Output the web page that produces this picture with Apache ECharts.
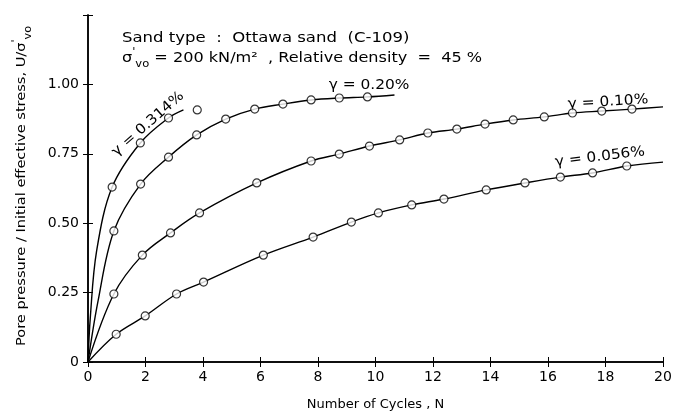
<!DOCTYPE html>
<html>
<head>
<meta charset="utf-8">
<script src="https://cdn.jsdelivr.net/npm/echarts@6/dist/echarts.min.js"></script>
<style>
  html, body { margin: 0; padding: 0; background: #fff; }
  #main { width: 689px; height: 417px; }
</style>
</head>
<body>
<div id="main"></div>
<script>
// tick labels
var xTicks = [0, 2, 4, 6, 8, 10, 12, 14, 16, 18, 20];
var yTicks = ['0', '0.25', '0.50', '0.75', '1.00'];

// measured points (open circles), N and U/sigma'vo
var cyc314 = [0.84, 1.82, 2.8, 3.8];
var u314 = [0.63, 0.789, 0.879, 0.908];
var cyc020 = [0.9, 1.83, 2.8, 3.78, 4.79, 5.8, 6.78, 7.76, 8.74, 9.72];
var u020 = [0.472, 0.641, 0.738, 0.818, 0.875, 0.911, 0.929, 0.944, 0.951, 0.955];
var cyc010 = [0.9, 1.89, 2.87, 3.88, 5.87, 7.76, 8.74, 9.79, 10.84, 11.82, 12.83, 13.81, 14.79, 15.87, 16.85, 17.87, 18.92];
var u010 = [0.245, 0.385, 0.465, 0.537, 0.645, 0.724, 0.749, 0.778, 0.80, 0.825, 0.839, 0.857, 0.872, 0.883, 0.897, 0.904, 0.911];
var cyc056 = [0.98, 1.99, 3.08, 4.02, 6.1, 7.83, 9.16, 10.1, 11.26, 12.38, 13.85, 15.2, 16.43, 17.55, 18.74];
var u056 = [0.10, 0.166, 0.245, 0.288, 0.385, 0.45, 0.504, 0.537, 0.566, 0.587, 0.62, 0.645, 0.666, 0.681, 0.706];

// drawn curves
var line314 = [[0, 0], [0.08, 0.16], [0.3, 0.4], [0.84, 0.63], [1.82, 0.789], [2.8, 0.879], [3.32, 0.908]];
var head020 = [[0, 0], [0.35, 0.22]];
var tail020 = [[10.66, 0.962]];
var tail010 = [[20, 0.919]];
var tail056 = [[20, 0.72]];

function pairs(xs, ys) {
    var out = [];
    for (var i = 0; i < xs.length; i++) {
        out.push([xs[i], ys[i]]);
    }
    return out;
}

var line020 = head020.concat(pairs(cyc020, u020), tail020);
var line010 = [[0, 0]].concat(pairs(cyc010, u010), tail010);
var line056 = [[0, 0]].concat(pairs(cyc056, u056), tail056);

var FONT = 'DejaVu Sans';

function curve(data) {
    return {
        type: 'line', data: data, smooth: 0.35, showSymbol: false, silent: true,
        lineStyle: { color: '#000', width: 1.4 }, z: 2
    };
}
function dots(data) {
    return {
        type: 'scatter', data: data, symbol: 'circle', symbolSize: 8,
        itemStyle: { color: '#fff', borderColor: '#000', borderWidth: 1.2 }, z: 3
    };
}
var subRich = {
    m: { fontSize: 14, fontFamily: FONT, fill: '#000', color: '#000', verticalAlign: 'middle', lineHeight: 22 },
    p: { fontSize: 10, fontFamily: FONT, fill: '#000', color: '#000', verticalAlign: 'top', lineHeight: 22 },
    s: { fontSize: 10, fontFamily: FONT, fill: '#000', color: '#000', verticalAlign: 'bottom', lineHeight: 22 }
};
function label(txt, x, y, rot, sx, align) {
    var a = align || 'center';
    return {
        type: 'text', x: x, y: y, rotation: rot, scaleX: sx || 1,
        style: {
            text: txt, fill: '#000', font: '14px ' + FONT,
            align: a, verticalAlign: 'middle',
            textAlign: a, textVerticalAlign: 'middle',
            rich: subRich
        }
    };
}

var axisCommon = {
    axisLine: { lineStyle: { color: '#000', width: 1.5 } },
    axisTick: { inside: true, length: 5, lineStyle: { color: '#000', width: 1 } },
    splitLine: { show: false }
};

var chart = echarts.init(document.getElementById('main'));
var option = {
    animation: false,
    backgroundColor: '#fff',
    grid: { left: 88, right: 26, top: 15, bottom: 55 },
    xAxis: [
        Object.assign({
            type: 'value', min: 0, max: 20, interval: 2, position: 'bottom',
            name: 'Number of Cycles , N', nameLocation: 'middle', nameGap: 36,
            nameTextStyle: { color: '#000', fontSize: 13, fontFamily: FONT },
            axisLabel: {
                color: '#000', fontSize: 14, fontFamily: FONT, margin: 8,
                formatter: function (v) { return xTicks.indexOf(v) >= 0 ? String(v) : ''; }
            }
        }, axisCommon),
        Object.assign({
            type: 'value', min: 0, max: 20, interval: 2, position: 'top',
            axisLabel: { show: false }
        }, axisCommon)
    ],
    yAxis: [
        Object.assign({
            type: 'value', min: 0, max: 1.25, interval: 0.25, position: 'left',
            axisLabel: {
                color: '#000', fontSize: 14, fontFamily: FONT, margin: 9,
                formatter: function (v) {
                    var i = Math.round(v / 0.25);
                    return i < yTicks.length ? yTicks[i] : '';
                }
            }
        }, axisCommon),
        Object.assign({
            type: 'value', min: 0, max: 1.25, interval: 0.25, position: 'right',
            axisLabel: { show: false }
        }, axisCommon)
    ],
    graphic: [
        // y axis title, stretched along its length like the lettering
        {
            type: 'text', x: 22, y: 186, rotation: Math.PI / 2, scaleX: 1.12,
            style: {
                text: '{t|Pore pressure / Initial effective stress, U/σ}{p|\'}{s|vo}',
                fill: '#000', font: '13px ' + FONT,
                align: 'center', verticalAlign: 'middle',
                textAlign: 'center', textVerticalAlign: 'middle',
                rich: {
                    t: { fontSize: 13, fontFamily: FONT, fill: '#000', verticalAlign: 'middle', lineHeight: 22 },
                    p: { fontSize: 10, fontFamily: FONT, fill: '#000', verticalAlign: 'top', lineHeight: 22 },
                    s: { fontSize: 10, fontFamily: FONT, fill: '#000', verticalAlign: 'bottom', lineHeight: 22 }
                }
            }
        },
        label('{m|Sand type  :  Ottawa sand  (C-109)}', 122, 38, 0, 1.18, 'left'),
        label('{m|σ}{p|\'}{s|vo}{m| = 200 kN/m²  , Relative density  =  45 %}', 122, 58, 0, 1.15, 'left'),
        label('{m|γ = 0.314%}', 148, 124, 0.72, 1.1),
        label('{m|γ = 0.20%}', 369, 85, 0, 1.1),
        label('{m|γ = 0.10%}', 608, 102, 0.06, 1.1),
        label('{m|γ = 0.056%}', 600, 157, 0.12, 1.1)
    ],
    series: [
        curve(line314), curve(line020), curve(line010), curve(line056),
        dots(pairs(cyc314, u314)), dots(pairs(cyc020, u020)),
        dots(pairs(cyc010, u010)), dots(pairs(cyc056, u056))
    ]
};
chart.setOption(option);
</script>
</body>
</html>
